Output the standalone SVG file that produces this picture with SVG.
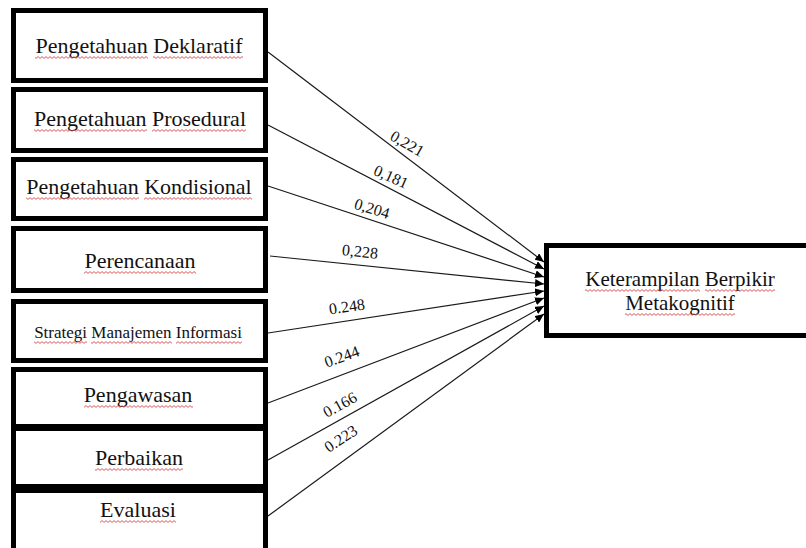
<svg xmlns="http://www.w3.org/2000/svg" width="806" height="548" viewBox="0 0 806 548">
<style>
.box{fill:#fff;stroke:#000;stroke-width:5}
.t{font-family:"Liberation Serif","Times New Roman",serif;font-size:22px;fill:#111;text-anchor:middle}
.ts{font-size:17px}
.tt{font-size:21px}
.ul{fill:url(#wave)}
.edge{stroke:#1a1a1a;stroke-width:1.2;fill:none;marker-end:url(#ah)}
.lbl{font-family:"Liberation Serif","Times New Roman",serif;font-size:16px;fill:#111;text-anchor:middle}
</style>
<defs>
<marker id="ah" markerUnits="userSpaceOnUse" markerWidth="9" markerHeight="8" refX="9" refY="4" orient="auto">
<path d="M0,0 L9,4 L0,8 z" fill="#000"/>
</marker>
<pattern id="wave" patternUnits="userSpaceOnUse" width="4" height="3">
<path d="M0 2.4 L2 0.6 L4 2.4" stroke="#d8474a" stroke-width="0.9" fill="none"/>
</pattern>
</defs>
<rect width="806" height="548" fill="#fff"/>
<g id="connectors">
<line class="edge" x1="268" y1="52" x2="544" y2="262"/>
<line class="edge" x1="268" y1="125" x2="544" y2="269"/>
<line class="edge" x1="268" y1="186" x2="544" y2="277"/>
<line class="edge" x1="270" y1="256" x2="544" y2="284"/>
<line class="edge" x1="268" y1="333" x2="544" y2="291"/>
<line class="edge" x1="268" y1="403" x2="544" y2="298"/>
<line class="edge" x1="268" y1="460" x2="544" y2="306"/>
<line class="edge" x1="268" y1="516" x2="544" y2="314"/>
<text class="lbl" x="407" y="149" transform="rotate(30 407 144)">0,221</text>
<text class="lbl" x="391" y="182" transform="rotate(24 391 177)">0,181</text>
<text class="lbl" x="372" y="214" transform="rotate(17 372 209)">0,204</text>
<text class="lbl" x="360" y="257" transform="rotate(6 360 252)">0,228</text>
<text class="lbl" x="347" y="312" transform="rotate(-8 347 307)">0.248</text>
<text class="lbl" x="342" y="362" transform="rotate(-20 342 357)">0.244</text>
<text class="lbl" x="340" y="410" transform="rotate(-29 340 405)">0.166</text>
<text class="lbl" x="341" y="444" transform="rotate(-33 341 439)">0.223</text>
</g>
<g id="n1"><rect class="box" x="13.5" y="10.5" width="252" height="70"/><text class="t" x="139" y="53">Pengetahuan Deklaratif</text>
<g transform="translate(0,56)"><rect class="ul" x="35" width="113" height="3"/><rect class="ul" x="153" width="90" height="3"/></g></g>
<g id="n2"><rect class="box" x="13.5" y="89.5" width="252" height="61"/><text class="t" x="140" y="126">Pengetahuan Prosedural</text>
<g transform="translate(0,129)"><rect class="ul" x="34" width="113" height="3"/><rect class="ul" x="152" width="94" height="3"/></g></g>
<g id="n3"><rect class="box" x="13.5" y="159.5" width="252" height="59"/><text class="t" x="139" y="194">Pengetahuan Kondisional</text>
<g transform="translate(0,197)"><rect class="ul" x="26" width="113" height="3"/><rect class="ul" x="144" width="108" height="3"/></g></g>
<g id="n4"><rect class="box" x="13.5" y="228.5" width="252" height="62"/><text class="t" x="140" y="268">Perencanaan</text>
<g transform="translate(0,271)"><rect class="ul" x="84" width="112" height="3"/></g></g>
<g id="n5"><rect class="box" x="13.5" y="301.5" width="252" height="59"/><text class="t ts" x="138" y="338">Strategi Manajemen Informasi</text>
<g transform="translate(0,341)"><rect class="ul" x="34" width="53" height="3"/><rect class="ul" x="91" width="81" height="3"/><rect class="ul" x="176" width="66" height="3"/></g></g>
<g id="n6"><rect class="box" x="13.5" y="369.5" width="252" height="57"/><text class="t" x="138" y="402">Pengawasan</text>
<g transform="translate(0,405)"><rect class="ul" x="84" width="109" height="3"/></g></g>
<g id="n7"><rect class="box" x="13.5" y="428.5" width="252" height="58"/><text class="t" x="139" y="465">Perbaikan</text>
<g transform="translate(0,468)"><rect class="ul" x="95" width="88" height="3"/></g></g>
<g id="n8"><rect class="box" x="13.5" y="490.5" width="252" height="70"/><text class="t" x="138" y="517">Evaluasi</text>
<g transform="translate(0,520)"><rect class="ul" x="100" width="76" height="3"/></g></g>
<g id="target"><rect class="box" x="546.5" y="245.5" width="270" height="90"/><text class="t tt" x="680" y="286">Keterampilan Berpikir</text><text class="t tt" x="680" y="310">Metakognitif</text>
<g transform="translate(0,289)"><rect class="ul" x="585" width="115" height="3"/><rect class="ul" x="705" width="70" height="3"/></g>
<g transform="translate(0,313)"><rect class="ul" x="625" width="110" height="3"/></g></g>
</svg>
